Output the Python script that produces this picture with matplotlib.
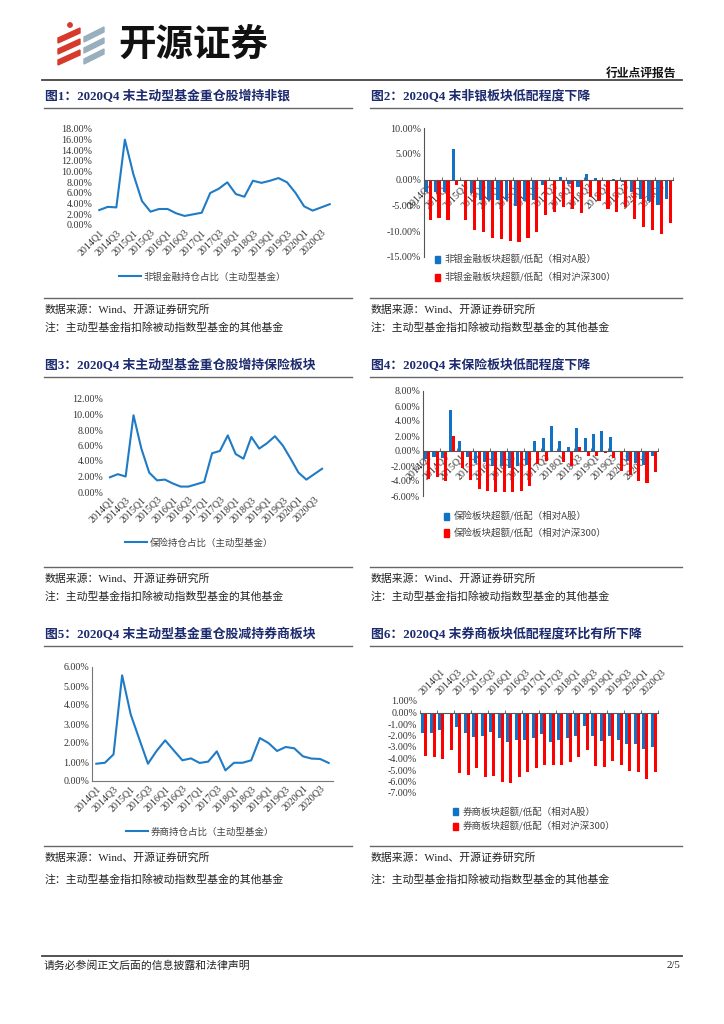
import numpy as np
import matplotlib.pyplot as plt
from matplotlib.lines import Line2D
from matplotlib.patches import Patch, Polygon, Circle

plt.rcParams['font.family'] = ['Liberation Serif', 'Noto Sans CJK SC']

# categories
quarters = ['2014Q1', '2014Q2', '2014Q3', '2014Q4', '2015Q1', '2015Q2', '2015Q3', '2015Q4',
            '2016Q1', '2016Q2', '2016Q3', '2016Q4', '2017Q1', '2017Q2', '2017Q3', '2017Q4',
            '2018Q1', '2018Q2', '2018Q3', '2018Q4', '2019Q1', '2019Q2', '2019Q3', '2019Q4',
            '2020Q1', '2020Q2', '2020Q3', '2020Q4']
tick_labels = ['2014Q1', '2014Q3', '2015Q1', '2015Q3', '2016Q1', '2016Q3', '2017Q1',
               '2017Q3', '2018Q1', '2018Q3', '2019Q1', '2019Q3', '2020Q1', '2020Q3']

# 图1 非银持仓占比 (%)
feiyin_hold = [2.8, 3.4, 3.3, 16.0, 9.5, 4.5, 2.5, 3.0, 3.0, 2.2, 1.7, 2.0, 2.3, 6.0,
               6.8, 8.0, 5.8, 5.3, 8.3, 7.9, 8.3, 8.8, 8.0, 6.0, 3.5, 2.7, 3.3, 3.9]
# 图2 非银超额/低配 (%)
feiyin_vs_a = [-2.4, -2.4, -2.4, 5.9, -0.1, -2.6, -3.9, -3.9, -3.9, -4.0, -5.2, -4.1, -4.0, -1.0,
               -0.2, 0.6, -0.8, -1.4, 1.1, 0.4, -0.1, 0.1, -0.5, -2.4, -3.7, -4.1, -4.9, -3.7]
feiyin_vs_hs300 = [-7.8, -7.5, -7.9, -1.0, -7.8, -9.7, -10.1, -11.4, -11.5, -11.9, -12.1, -11.4, -10.2, -6.9,
                   -6.2, -5.3, -5.7, -6.4, -3.4, -4.1, -5.7, -6.2, -5.3, -7.6, -9.2, -9.7, -10.6, -8.4]
# 图3 保险持仓占比 (%)
insurance_hold = [1.9, 2.3, 2.0, 9.9, 5.6, 2.5, 1.5, 1.6, 1.1, 0.7, 0.7, 1.0, 1.3, 5.0,
                  5.3, 7.3, 4.9, 4.3, 7.1, 5.6, 6.3, 7.2, 6.0, 4.3, 2.5, 1.6, 2.3, 3.0]
# 图4 保险超额/低配 (%)
insurance_vs_a = [-1.1, -0.8, -0.9, 5.5, 1.4, -0.8, -1.6, -1.5, -2.0, -2.0, -2.3, -2.0, -1.8, 1.4,
                  1.7, 3.3, 1.3, 0.6, 3.1, 1.7, 2.3, 2.7, 1.9, -0.1, -1.3, -1.6, -1.8, -0.6]
insurance_vs_hs300 = [-3.7, -3.5, -4.0, 2.0, -2.3, -3.9, -5.1, -5.3, -5.4, -5.4, -5.4, -5.3, -4.7, -1.7,
                      -1.3, 0.0, -1.5, -2.0, 0.5, -0.7, -0.6, -0.2, -0.9, -2.6, -3.2, -4.0, -4.3, -2.8]
# 图5 券商持仓占比 (%)
broker_hold = [0.91, 0.96, 1.4, 5.56, 3.5, 2.2, 0.91, 1.58, 2.14, 1.61, 1.09, 1.19, 0.95, 1.02,
               1.56, 0.56, 0.96, 0.96, 1.09, 2.26, 2.0, 1.58, 1.79, 1.72, 1.3, 1.18, 1.16, 0.95]
# 图6 券商超额/低配 (%)
broker_vs_a = [-1.8, -1.75, -1.5, -0.05, -1.3, -1.75, -2.15, -2.0, -1.7, -2.2, -2.6, -2.35, -2.35, -2.25,
               -1.9, -2.55, -2.35, -2.2, -2.05, -1.2, -2.05, -2.5, -2.05, -2.35, -2.7, -2.7, -3.2, -3.0]
broker_vs_hs300 = [-3.8, -3.9, -4.0, -3.3, -5.3, -5.4, -4.85, -5.6, -5.5, -6.05, -6.15, -5.65, -5.2, -4.85,
                   -4.55, -4.6, -4.6, -4.3, -3.9, -3.3, -4.65, -4.75, -4.25, -4.6, -5.05, -5.2, -5.8, -5.2]

W, H = 724, 1024
BLUE = '#1F7BC6'
BLUE_BAR = '#1273C4'
RED = '#FF0000'
NAVY = '#1C2A6E'
TXT = '#333333'
CJK = ['Noto Sans CJK SC', 'DejaVu Sans']
TICK_FS = 7.2

fig = plt.figure(figsize=(7.24, 10.24), dpi=100)

# page layer in pixel coordinates
page = fig.add_axes([0, 0, 1, 1])
page.set_xlim(0, W)
page.set_ylim(H, 0)
page.axis('off')


def rect(x0, y0, x1, y1):
    return [x0 / W, 1 - y1 / H, (x1 - x0) / W, (y1 - y0) / H]


def pct(v):
    return f'{v:.2f}%'


# header logo
for k in range(3):
    yl = 38 + 11 * k
    page.add_patch(Polygon([(58, yl), (80, yl - 10), (80, yl - 5), (58, yl + 5)], color='#D63A2A'))
    page.add_patch(Polygon([(84, yl - 1), (104, yl - 11), (104, yl - 6), (84, yl + 4)], color='#98AFBD'))
page.add_patch(Circle((70, 25), 2.2, color='#D63A2A'))
page.text(118, 44, '开源证券', fontsize=27, fontweight='bold', family=CJK, va='center', ha='left', color='#111111')
page.text(676, 73, '行业点评报告', fontsize=8.5, fontweight='bold', family=CJK, va='center', ha='right', color='#111111')
page.plot([42, 682], [80, 80], color='#444444', lw=1.3)

# footer
page.plot([42, 682], [956, 956], color='#444444', lw=1.3)
page.text(44, 966, '请务必参阅正文后面的信息披露和法律声明', fontsize=7.8, va='center', color='#222222')
page.text(680, 966, '2/5', fontsize=7.8, va='center', ha='right', color='#222222')

titles = ['图1：2020Q4 末主动型基金重仓股增持非银', '图2：2020Q4 末非银板块低配程度下降',
          '图3：2020Q4 末主动型基金重仓股增持保险板块', '图4：2020Q4 末保险板块低配程度下降',
          '图5：2020Q4 末主动型基金重仓股减持券商板块', '图6：2020Q4 末券商板块低配程度环比有所下降']
title_y = [97, 366, 635]
under_y = [108, 377, 646]
bottom_y = [298, 567, 846]
source_y = [310, 579, 858]
note_y = [328, 597, 880]
cols = [(44, 352), (370, 682)]

for r in range(3):
    for c in range(2):
        x0, x1 = cols[c]
        page.text(x0 + 1, title_y[r], titles[r * 2 + c], fontsize=9.3, fontweight='bold',
                  color=NAVY, va='center', ha='left')
        page.plot([x0, x1], [under_y[r], under_y[r]], color='#666666', lw=1.0)
        page.plot([x0, x1], [bottom_y[r], bottom_y[r]], color='#666666', lw=1.0)
        page.text(x0 + 1, source_y[r], '数据来源：Wind、开源证券研究所', fontsize=7.8, va='center', color='#222222')
        page.text(x0 + 1, note_y[r], '注：主动型基金指扣除被动指数型基金的其他基金', fontsize=7.8,
                  va='center', color='#222222')


def style_ticks(ax):
    ax.tick_params(axis='both', which='major', length=0, labelsize=TICK_FS, labelcolor=TXT, pad=2)


def line_chart(box, values, ymax, step, label, leg_x, leg_y, show_spines=False):
    ax = fig.add_axes(rect(*box))
    x = np.arange(len(values))
    ax.plot(x, values, color=BLUE, lw=1.5)
    ax.set_xlim(-0.5, len(values) - 0.5)
    ax.set_ylim(0, ymax)
    yt = np.arange(0, ymax + step / 2, step)
    ax.set_yticks(yt)
    ax.set_yticklabels([pct(v) for v in yt])
    ax.set_xticks(x[::2])
    ax.set_xticklabels(tick_labels, rotation=45, ha='right', va='top', rotation_mode='anchor')
    style_ticks(ax)
    for s in ax.spines.values():
        s.set_visible(False)
    if show_spines:
        ax.spines['left'].set_visible(True)
        ax.spines['bottom'].set_visible(True)
        ax.spines['left'].set_color('#777777')
        ax.spines['bottom'].set_color('#777777')
    ax.patch.set_alpha(0)
    ax.legend([Line2D([0], [0], color=BLUE, lw=1.5)], [label], loc='center left',
              bbox_to_anchor=(leg_x / W, 1 - leg_y / H), bbox_transform=fig.transFigure,
              frameon=False, handlelength=2.3, handletextpad=0.3, borderpad=0, borderaxespad=0,
              prop={'family': CJK, 'size': 6.8}, labelcolor='#444444')
    return ax


def bar_chart(box, a_vals, hs_vals, ylo, yhi, step, labels, leg_x, leg_y, gap, top_labels=False,
              left_spine=True):
    ax = fig.add_axes(rect(*box))
    x = np.arange(len(a_vals))
    ax.bar(x - 0.19, a_vals, width=0.36, color=BLUE_BAR, zorder=2)
    ax.bar(x + 0.19, hs_vals, width=0.36, color=RED, zorder=2)
    ax.set_xlim(-0.5, len(a_vals) - 0.5)
    ax.set_ylim(ylo, yhi)
    yt = np.arange(ylo, yhi + step / 2, step)
    ax.set_yticks(yt)
    ax.set_yticklabels([pct(v) for v in yt])
    ax.set_xticks(x[::2])
    ax.set_xticks(np.arange(-0.5, len(a_vals), 2), minor=True)
    style_ticks(ax)
    for s in ax.spines.values():
        s.set_visible(False)
    ax.spines['bottom'].set_visible(True)
    ax.spines['bottom'].set_position(('data', 0))
    ax.spines['bottom'].set_color('#555555')
    ax.spines['bottom'].set_zorder(3)
    if left_spine:
        ax.spines['left'].set_visible(True)
        ax.spines['left'].set_color('#555555')
    ax.tick_params(axis='x', which='minor', bottom=True, top=False, direction='in', length=2.5,
                   color='#555555')
    if top_labels:
        ax.tick_params(axis='x', which='major', labelbottom=False, labeltop=True, pad=3)
        ax.set_xticklabels(tick_labels, rotation=45, ha='left', va='bottom', rotation_mode='anchor')
    else:
        ax.tick_params(axis='x', which='major', pad=1)
        ax.set_xticklabels(tick_labels, rotation=45, ha='right', va='top', rotation_mode='anchor')
    for t in ax.get_xticklabels():
        t.set_zorder(5)
    ax.patch.set_alpha(0)
    handles = [Patch(color=BLUE_BAR), Patch(color=RED)]
    ax.legend(handles, labels, loc='center left', bbox_to_anchor=(leg_x / W, 1 - leg_y / H),
              bbox_transform=fig.transFigure, frameon=False, handlelength=0.5, handleheight=0.8,
              handletextpad=0.5, borderpad=0, borderaxespad=0, labelspacing=gap,
              prop={'family': CJK, 'size': 6.8}, labelcolor='#444444')
    return ax


line_chart((95, 129, 334, 225), feiyin_hold, 18, 2, '非银金融持仓占比（主动型基金）', 119, 277)
bar_chart((424, 128, 673, 257), feiyin_vs_a, feiyin_vs_hs300, -15, 10, 5,
          ['非银金融板块超额/低配（相对A股）', '非银金融板块超额/低配（相对沪深300）'], 435, 268.5, 0.85)

line_chart((106, 399, 326, 492), insurance_hold, 12, 2, '保险持仓占比（主动型基金）', 125, 543)
bar_chart((423, 391, 658, 496), insurance_vs_a, insurance_vs_hs300, -6, 8, 2,
          ['保险板块超额/低配（相对A股）', '保险板块超额/低配（相对沪深300）'], 444, 525, 0.7)

line_chart((92, 667, 333, 781), broker_hold, 6, 1, '券商持仓占比（主动型基金）', 126, 832,
           show_spines=True)
bar_chart((420, 701, 658, 793), broker_vs_a, broker_vs_hs300, -7, 1, 1,
          ['券商板块超额/低配（相对A股）', '券商板块超额/低配（相对沪深300）'], 453, 819.5, 0.5,
          top_labels=True, left_spine=False)

fig.savefig('out.png', dpi=100)
